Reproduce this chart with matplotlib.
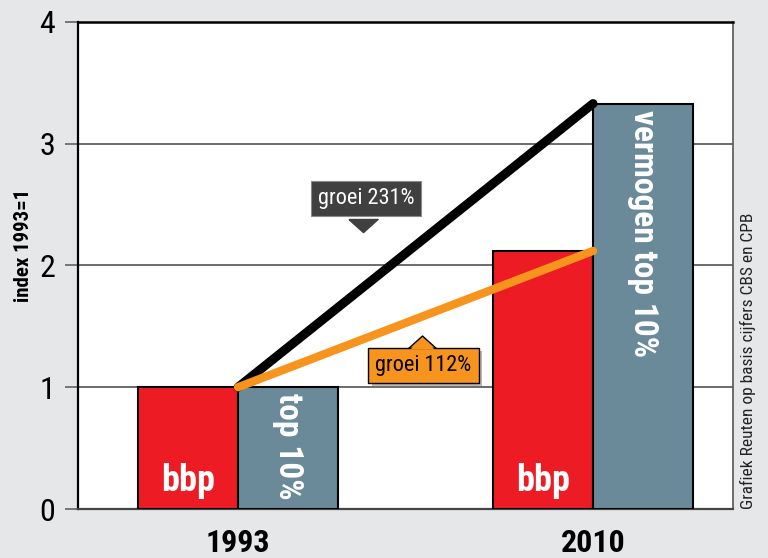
import matplotlib.pyplot as plt
from matplotlib import patheffects

# waarden (index 1993 = 1)
jaren = ['1993', '2010']
bbp = [1.00, 2.12]
vermogen_top10 = [1.00, 3.33]
bbp_labels = ['bbp', 'bbp']
top_labels = ['top 10%', 'vermogen top 10%']
groei_labels = ['groei 231%', 'groei 112%']

rood = '#ed1c24'
blauwgrijs = '#6a8a9a'
oranje = '#f7941d'
achtergrond = '#e6e7e8'

plt.rcParams['font.family'] = ['Roboto Condensed', 'DejaVu Sans']

fig = plt.figure(figsize=(7.68, 5.58), dpi=100, facecolor=achtergrond)
ax = fig.add_axes([0.1016, 0.0878, 0.8528, 0.8728])

x = [0, 1]
w = 0.2817
ax.bar([xi - w / 2 for xi in x], bbp, w, color=rood, edgecolor='black', lw=1.5, zorder=3)
ax.bar([xi + w / 2 for xi in x], vermogen_top10, w, color=blauwgrijs, edgecolor='black', lw=1.5, zorder=3)

# groeilijnen
ax.plot(x, vermogen_top10, color='black', lw=6.5, solid_capstyle='round', zorder=5)
ax.plot(x, bbp, color=oranje, lw=6, solid_capstyle='round', zorder=6)

# teksten in de staven
for xi, lab in zip(x, bbp_labels):
    ax.text(xi - w / 2, 0.15, lab, color='white', fontsize=26, fontweight='bold',
            ha='center', va='baseline', zorder=7)
for xi, h, lab in zip(x, vermogen_top10, top_labels):
    ax.text(xi + w / 2, h - 0.05, lab, color='white', fontsize=24, fontweight='bold',
            rotation=-90, ha='center', va='top', zorder=7)

# groei-labels
ax.text(0.36, 2.55, groei_labels[0], color='white', fontsize=16,
        ha='center', va='center', zorder=8,
        bbox=dict(boxstyle='square,pad=0.32', fc='#404040', ec='#8a8a8a', lw=0.8))
tri = [(-1, 0), (1, 0), (0, -0.9), (-1, 0)]
ax.plot(0.352, 2.385, marker=tri, ms=21, color='#404040', mec='#404040', zorder=9)

t = ax.text(0.522, 1.18, groei_labels[1], color='black', fontsize=16,
            ha='center', va='center', zorder=8,
            bbox=dict(boxstyle='square,pad=0.32', fc=oranje, ec='black', lw=1.0))
t.get_bbox_patch().set_path_effects([
    patheffects.SimplePatchShadow(offset=(2.5, -2.5), shadow_rgbFace='#8a8a8a', alpha=0.6),
    patheffects.Normal()])
tri_up = [(-1, 0), (1, 0), (0, 0.9), (-1, 0)]
ax.plot(0.518, 1.32, marker=tri_up, ms=20, color=oranje, mec='black', mew=1.0, zorder=7)
ax.plot(0.518, 1.318, marker=tri_up, ms=17.5, color=oranje, mec=oranje, mew=0, zorder=9)

# assen
ax.set_xlim(-0.4507, 1.394)
ax.set_ylim(0, 4)
ax.set_yticks([0, 1, 2, 3, 4])
ax.set_yticklabels(['0', '1', '2', '3', '4'], fontsize=23)
ax.set_xticks(x)
ax.set_xticklabels(jaren, fontsize=23, fontweight='bold')
ax.tick_params(axis='y', length=9.5, width=1.1, color='#555555', pad=7)
ax.tick_params(axis='x', length=0, pad=14)
ax.grid(axis='y', color='#444444', lw=1.1, zorder=1)
ax.set_ylabel('index 1993=1', fontsize=15, fontweight='bold')
ax.yaxis.set_label_coords(-0.069, 0.542)

ax.spines['left'].set_linewidth(1.6)
ax.spines['top'].set_linewidth(1.8)
ax.spines['bottom'].set_color('#444444')
ax.spines['bottom'].set_linewidth(1.6)
ax.spines['right'].set_color('#555555')
ax.spines['right'].set_linewidth(1.2)

fig.text(0.974, 0.0878, 'Grafiek Reuten op basis cijfers CBS en CPB', rotation=90,
         fontsize=12.5, ha='center', va='bottom', color='#222222')

fig.savefig('out.png', dpi=100, facecolor=achtergrond)
